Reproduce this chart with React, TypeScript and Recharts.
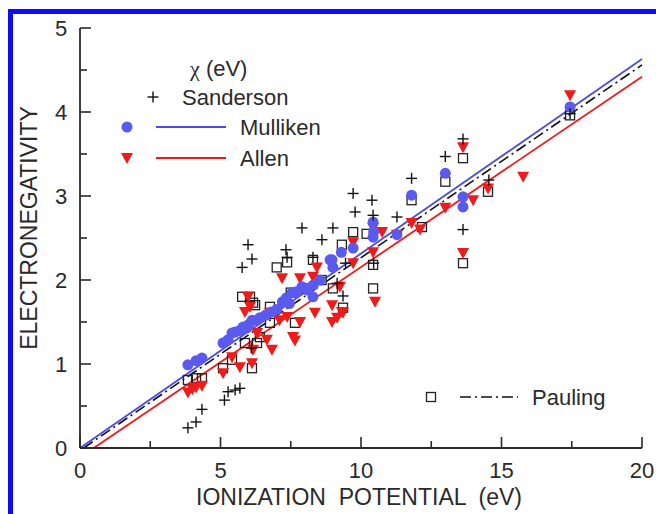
import { ScatterChart, Scatter, XAxis, YAxis, ReferenceLine } from 'recharts';

const FONT = '"Liberation Sans", Arial, sans-serif';
const INK = '#2a2a2a';
const BLUE = '#5a5aee';
const BLUE_LINE = '#4b4be4';
const RED = '#f01a1a';

const X_TICKS = [0, 2.5, 5, 7.5, 10, 12.5, 15, 17.5, 20];
const Y_TICKS = [0, 0.5, 1, 1.5, 2, 2.5, 3, 3.5, 4, 4.5, 5];
const X_LABELS = [0, 5, 10, 15, 20];
const Y_LABELS = [0, 1, 2, 3, 4, 5];

// [ionization potential, electronegativity]
const SANDERSON: [number, number][] = [
  [3.84, 0.24], [4.13, 0.31], [4.34, 0.46],
  [5.14, 0.57], [5.27, 0.67], [5.52, 0.69], [5.69, 0.71],
  [5.77, 2.15], [5.98, 2.42], [6.12, 2.25], [6.1, 1.19],
  [7.33, 2.36], [7.37, 2.27], [7.9, 2.62], [8.29, 2.27], [8.61, 2.48],
  [9.0, 2.62], [9.15, 1.96], [9.36, 1.81], [9.45, 2.2], [9.72, 3.03],
  [9.79, 2.81], [10.39, 2.95], [10.43, 2.77], [10.45, 2.2], [11.28, 2.75],
  [11.8, 3.21], [13.0, 3.47], [13.63, 3.68], [13.63, 2.6], [14.55, 3.19],
  [17.44, 3.98],
];

const MULLIKEN: [number, number][] = [
  [3.84, 0.99], [4.13, 1.04], [4.34, 1.07],
  [5.09, 1.25], [5.27, 1.29], [5.41, 1.37], [5.52, 1.38], [5.69, 1.4],
  [5.8, 1.44], [5.94, 1.43], [6.0, 1.47], [6.12, 1.52], [6.3, 1.52],
  [6.4, 1.55], [6.6, 1.58], [6.8, 1.62], [7.0, 1.65], [7.2, 1.74],
  [7.35, 1.79], [7.45, 1.72], [7.55, 1.85], [7.7, 1.86], [7.9, 1.92],
  [8.1, 1.88], [8.29, 1.8], [8.3, 1.94], [8.55, 2.0], [8.9, 2.24],
  [8.97, 2.24], [9.0, 2.15], [9.3, 2.33], [9.72, 2.38], [10.43, 2.69],
  [10.43, 2.51], [10.45, 2.57], [11.28, 2.54], [11.8, 3.01], [13.0, 3.27],
  [13.63, 2.99], [13.63, 2.87], [17.44, 4.06],
];

const ALLEN: [number, number][] = [
  [3.84, 0.66], [4.0, 0.7], [4.13, 0.72], [4.34, 0.74],
  [5.09, 0.89], [5.41, 1.08], [5.69, 0.96], [5.87, 1.62], [5.98, 1.8],
  [6.05, 1.68], [6.12, 1.01], [6.16, 1.17], [6.3, 1.37], [6.65, 1.29],
  [6.76, 1.61], [6.83, 1.17], [7.1, 1.52], [7.19, 2.02], [7.37, 1.56],
  [7.58, 1.32], [7.65, 1.28], [7.83, 2.02], [7.83, 1.5], [8.29, 2.04],
  [8.36, 1.61], [8.43, 2.15], [8.97, 1.7], [8.97, 1.5], [9.15, 1.55],
  [9.25, 1.92], [9.32, 1.62], [9.36, 1.61], [9.72, 2.45], [9.72, 2.2],
  [10.43, 2.62], [10.43, 2.33], [10.5, 1.74], [10.75, 2.57], [11.28, 2.54],
  [11.8, 2.68], [12.1, 2.6], [13.0, 2.86], [13.63, 3.58], [13.63, 2.32],
  [13.99, 2.95], [14.52, 3.09], [15.77, 3.23], [17.44, 4.2],
];

const PAULING: [number, number][] = [
  [3.84, 0.81], [4.13, 0.83], [4.34, 0.83],
  [5.09, 0.95], [5.41, 1.05], [5.77, 1.8], [5.87, 1.25], [6.05, 1.8],
  [6.12, 0.95], [6.16, 1.73], [6.23, 1.7], [6.3, 1.25], [6.4, 1.32],
  [6.76, 1.68], [6.76, 1.49], [7.0, 2.15], [7.37, 2.21], [7.5, 1.85],
  [7.65, 1.49], [8.0, 1.9], [8.29, 2.24], [8.6, 2.0], [9.0, 1.9],
  [9.32, 2.42], [9.36, 1.67], [9.72, 2.57], [10.2, 2.55], [10.43, 2.18],
  [10.43, 1.9], [11.8, 2.95], [12.17, 2.63], [13.0, 3.17], [13.63, 3.45],
  [13.63, 2.2], [14.52, 3.05], [17.44, 3.96],
];

// straight-line fits: [x, y] end points
const MULLIKEN_FIT: [number, number][] = [[0, 0], [20, 4.63]];
const PAULING_FIT: [number, number][] = [[0.13, 0], [20, 4.56]];
const ALLEN_FIT: [number, number][] = [[0.49, 0], [20, 4.42]];

const toPoints = (rows: [number, number][]) => rows.map(([x, y]) => ({ x, y }));

const Plus = ({ cx, cy }: any) => (
  <g stroke="#111" strokeWidth={1.4}>
    <line x1={cx - 5.5} y1={cy} x2={cx + 5.5} y2={cy} />
    <line x1={cx} y1={cy - 5.5} x2={cx} y2={cy + 5.5} />
  </g>
);
const Dot = ({ cx, cy }: any) => <circle cx={cx} cy={cy} r={5.5} fill={BLUE} />;
const Tri = ({ cx, cy }: any) => (
  <polygon points={`${cx - 6},${cy - 5} ${cx + 6},${cy - 5} ${cx},${cy + 6}`} fill={RED} />
);
const Box = ({ cx, cy }: any) => (
  <rect x={cx - 4.5} y={cy - 4.5} width={9} height={9} fill="none" stroke="#222" strokeWidth={1.3} />
);

const tickText = { fontFamily: FONT, fontSize: 22, fill: INK };
const titleText = { fontFamily: FONT, fontSize: 23, fill: INK };

const BottomTick = ({ x, y, payload }: any) => {
  const major = X_LABELS.includes(payload.value);
  return (
    <g>
      <line x1={x} y1={y} x2={x} y2={y - (major ? 11 : 7)} stroke={INK} strokeWidth={1.6} />
      {major && (
        <text x={x} y={y + 22} textAnchor="middle" dominantBaseline="central" style={tickText}>
          {payload.value}
        </text>
      )}
    </g>
  );
};
const TopTick = ({ x, y, payload }: any) => {
  const major = X_LABELS.includes(payload.value);
  return <line x1={x} y1={y} x2={x} y2={y + (major ? 11 : 7)} stroke={INK} strokeWidth={1.6} />;
};
const LeftTick = ({ x, y, payload }: any) => {
  const major = Y_LABELS.includes(payload.value);
  return (
    <g>
      <line x1={x} y1={y} x2={x + (major ? 11 : 7)} y2={y} stroke={INK} strokeWidth={1.6} />
      {major && (
        <text x={x - 19} y={y} textAnchor="middle" dominantBaseline="central" style={tickText}>
          {payload.value}
        </text>
      )}
    </g>
  );
};
const RightTick = ({ x, y, payload }: any) => {
  const major = Y_LABELS.includes(payload.value);
  return <line x1={x} y1={y} x2={x - (major ? 11 : 7)} y2={y} stroke={INK} strokeWidth={1.6} />;
};

const XTitle = ({ viewBox }: any) => (
  <text
    x={viewBox.x + viewBox.width / 2 - 2}
    y={viewBox.y + 49}
    textAnchor="middle"
    dominantBaseline="central"
    style={{ ...titleText, whiteSpace: 'pre' }}
  >
    {'IONIZATION  POTENTIAL  (eV)'}
  </text>
);
const YTitle = ({ viewBox }: any) => {
  const cx = viewBox.x + 9;
  const cy = viewBox.y + viewBox.height / 2 - 10;
  return (
    <text
      x={cx}
      y={cy}
      transform={`rotate(-90 ${cx} ${cy})`}
      textAnchor="middle"
      dominantBaseline="central"
      style={titleText}
    >
      ELECTRONEGATIVITY
    </text>
  );
};

const axisLine = { stroke: INK, strokeWidth: 1.8 };
const legendText = { fontFamily: FONT, fontSize: 22, fill: INK };

export default function App() {
  return (
    <div style={{ position: 'absolute', left: 0, top: 0, width: 656, height: 514, background: '#fff' }}>
      <div style={{ position: 'absolute', left: 0, top: 0 }}>
        <ScatterChart width={656} height={514} margin={{ top: 28, right: 14, bottom: 0, left: 20 }}>
          <XAxis
            type="number"
            dataKey="x"
            domain={[0, 20]}
            ticks={X_TICKS}
            interval={0}
            height={66}
            tickSize={0}
            tickMargin={0}
            tickLine={false}
            tick={BottomTick}
            axisLine={axisLine}
            allowDataOverflow
            label={XTitle}
          />
          <XAxis
            xAxisId="top"
            orientation="top"
            type="number"
            domain={[0, 20]}
            ticks={X_TICKS}
            interval={0}
            height={0}
            tickSize={0}
            tickMargin={0}
            tickLine={false}
            tick={TopTick}
            axisLine={axisLine}
          />
          <YAxis
            type="number"
            dataKey="y"
            domain={[0, 5]}
            ticks={Y_TICKS}
            interval={0}
            width={60}
            tickSize={0}
            tickMargin={0}
            tickLine={false}
            tick={LeftTick}
            axisLine={axisLine}
            allowDataOverflow
            label={YTitle}
          />
          <YAxis
            yAxisId="right"
            orientation="right"
            type="number"
            domain={[0, 5]}
            ticks={Y_TICKS}
            interval={0}
            width={0}
            tickSize={0}
            tickMargin={0}
            tickLine={false}
            tick={RightTick}
            axisLine={axisLine}
          />
          <ReferenceLine
            segment={toPoints(PAULING_FIT)}
            stroke="#111"
            strokeWidth={1.6}
            strokeDasharray="11 4 2 4"
            ifOverflow="visible"
          />
          <ReferenceLine segment={toPoints(MULLIKEN_FIT)} stroke={BLUE_LINE} strokeWidth={1.8} ifOverflow="visible" />
          <ReferenceLine segment={toPoints(ALLEN_FIT)} stroke={RED} strokeWidth={1.8} ifOverflow="visible" />
          <Scatter data={toPoints(PAULING)} shape={Box} isAnimationActive={false} />
          <Scatter data={toPoints(ALLEN)} shape={Tri} isAnimationActive={false} />
          <Scatter data={toPoints(MULLIKEN)} shape={Dot} isAnimationActive={false} />
          <Scatter data={toPoints(SANDERSON)} shape={Plus} isAnimationActive={false} />
        </ScatterChart>
      </div>
      <svg width={656} height={514} style={{ position: 'absolute', left: 0, top: 0, pointerEvents: 'none' }}>
        <text x={190} y={68} dominantBaseline="central" style={legendText}>
          <tspan style={{ fontFamily: '"Liberation Serif", serif' }}>χ</tspan> (eV)
        </text>
        <Plus cx={153} cy={97} />
        <text x={182} y={97} dominantBaseline="central" style={legendText}>Sanderson</text>
        <Dot cx={127} cy={127} />
        <line x1={156} y1={127} x2={226} y2={127} stroke={BLUE_LINE} strokeWidth={1.8} />
        <text x={240} y={127} dominantBaseline="central" style={legendText}>Mulliken</text>
        <Tri cx={127} cy={158} />
        <line x1={156} y1={158} x2={226} y2={158} stroke={RED} strokeWidth={1.8} />
        <text x={240} y={158} dominantBaseline="central" style={legendText}>Allen</text>
        <Box cx={431} cy={397} />
        <line x1={460} y1={397} x2={518} y2={397} stroke="#111" strokeWidth={1.6} strokeDasharray="11 4 2 4" />
        <text x={532} y={397} dominantBaseline="central" style={legendText}>Pauling</text>
      </svg>
      <div
        style={{
          position: 'absolute',
          left: 8,
          top: 9,
          width: 648,
          height: 505,
          borderLeft: '5px solid #0b0bf5',
          borderTop: '5px solid #0b0bf5',
          boxSizing: 'border-box',
          pointerEvents: 'none',
        }}
      />
    </div>
  );
}
